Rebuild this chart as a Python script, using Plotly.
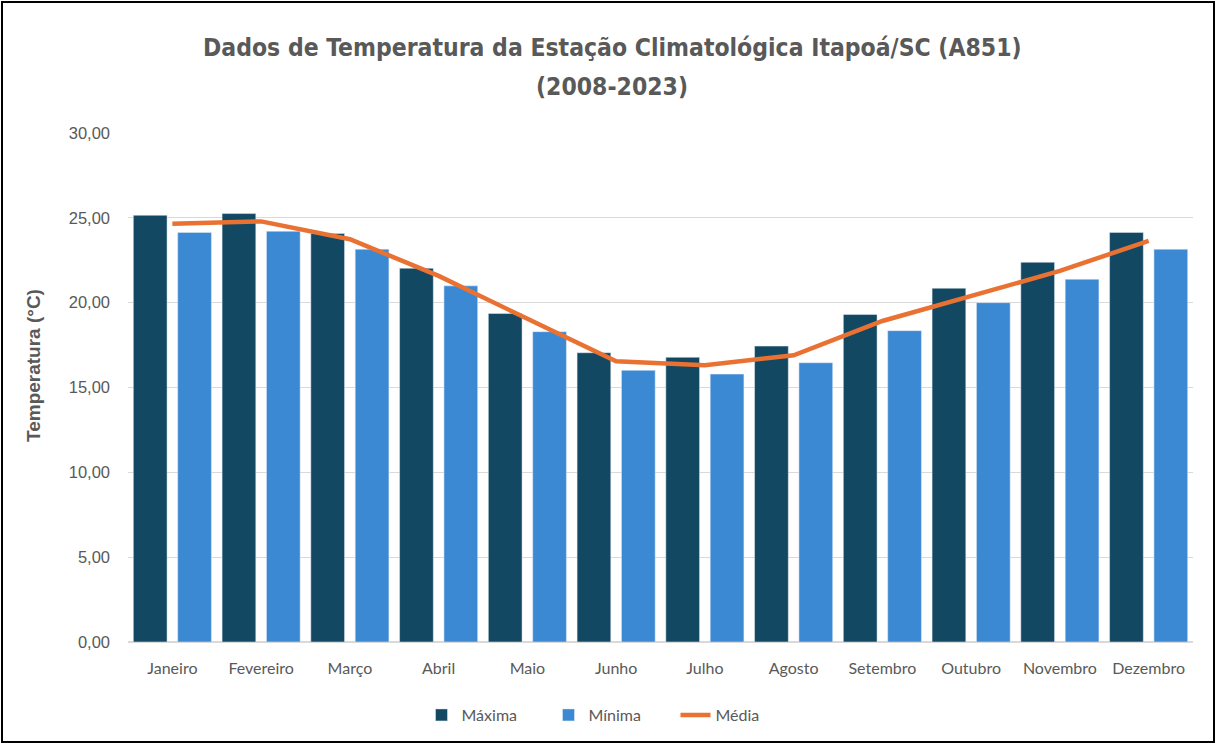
import plotly.graph_objects as go

months = ["Janeiro", "Fevereiro", "Março", "Abril", "Maio", "Junho", "Julho",
          "Agosto", "Setembro", "Outubro", "Novembro", "Dezembro"]
maxima = [25.15, 25.25, 24.08, 22.03, 19.36, 17.05, 16.78, 17.44, 19.30, 20.85, 22.38, 24.14]
minima = [24.14, 24.21, 23.15, 20.99, 18.29, 16.01, 15.79, 16.46, 18.35, 20.00, 21.38, 23.15]
media = [24.65, 24.79, 23.74, 21.58, 19.05, 16.55, 16.31, 16.90, 18.92, 20.40, 21.87, 23.64]
y_ticks = [0, 5, 10, 15, 20, 25, 30]
title_lines = ["Dados de Temperatura da Estação Climatológica Itapoá/SC (A851)", "(2008-2023)"]

W, H = 1217, 744
L, R, T, B = 128, 24, 133, 102
pw, ph = W - L - R, H - T - B

def px(x):
    return (x - L) / pw

def py(y):
    return (H - B - y) / ph

grey = "#595959"
fig = go.Figure()
fig.add_trace(go.Bar(name="Máxima", x=months, y=maxima, marker_color="#124862"))
fig.add_trace(go.Bar(name="Mínima", x=months, y=minima, marker_color="#3C89D3"))
fig.add_trace(go.Scatter(name="Média", x=months, y=media, mode="lines",
                         line=dict(color="#E97132", width=4.5)))

title_font = dict(family="DejaVu Sans Condensed, Liberation Sans Narrow, Arial Narrow, sans-serif",
                  size=24.5, color=grey)
annotations = [
    dict(text="<b>" + title_lines[0] + "</b>", xref="paper", yref="paper",
         x=px(612), y=py(47), xanchor="center", yanchor="middle", showarrow=False, font=title_font),
    dict(text="<b>" + title_lines[1] + "</b>", xref="paper", yref="paper",
         x=px(612), y=py(86), xanchor="center", yanchor="middle", showarrow=False, font=title_font),
    dict(text="<b>Temperatura (°C)</b>", xref="paper", yref="paper", textangle=-90,
         x=px(33), y=py(366), xanchor="center", yanchor="middle", showarrow=False,
         font=dict(family="Liberation Sans, Arial, sans-serif", size=19, color=grey)),
]

fig.update_layout(
    width=W, height=H,
    margin=dict(l=L, r=R, t=T, b=B),
    paper_bgcolor="white", plot_bgcolor="white",
    separators=",.",
    barmode="group", bargap=0.0, bargroupgap=0.24,
    annotations=annotations,
    font=dict(family="Liberation Sans, Arial, sans-serif", size=15, color=grey),
    showlegend=True,
    legend=dict(orientation="h", x=px(612), xanchor="center", y=py(715), yanchor="middle",
                font=dict(family="Lato, sans-serif", size=16, color=grey),
                traceorder="normal", entrywidth=82),
    shapes=[dict(type="rect", xref="paper", yref="paper",
                 x0=px(2), x1=px(1214), y0=py(742), y1=py(2),
                 line=dict(color="black", width=2), fillcolor="rgba(0,0,0,0)", layer="above")],
)
fig.update_yaxes(range=[0, 30], tickvals=y_ticks, tickformat=".2f",
                 showgrid=True, gridcolor="#D9D9D9", gridwidth=1,
                 zeroline=True, zerolinecolor="#D9D9D9", showline=False,
                 ticks="", ticklabelstandoff=17,
                 tickfont=dict(size=16.5, color=grey))
fig.update_xaxes(showgrid=False, showline=True, linecolor="#D9D9D9", ticks="",
                 tickfont=dict(family="Lato, sans-serif", size=16, color=grey),
                 ticklabelstandoff=12)

fig.write_html("out.html", config={"displayModeBar": False},
               post_script="document.body.style.margin='0px';")
